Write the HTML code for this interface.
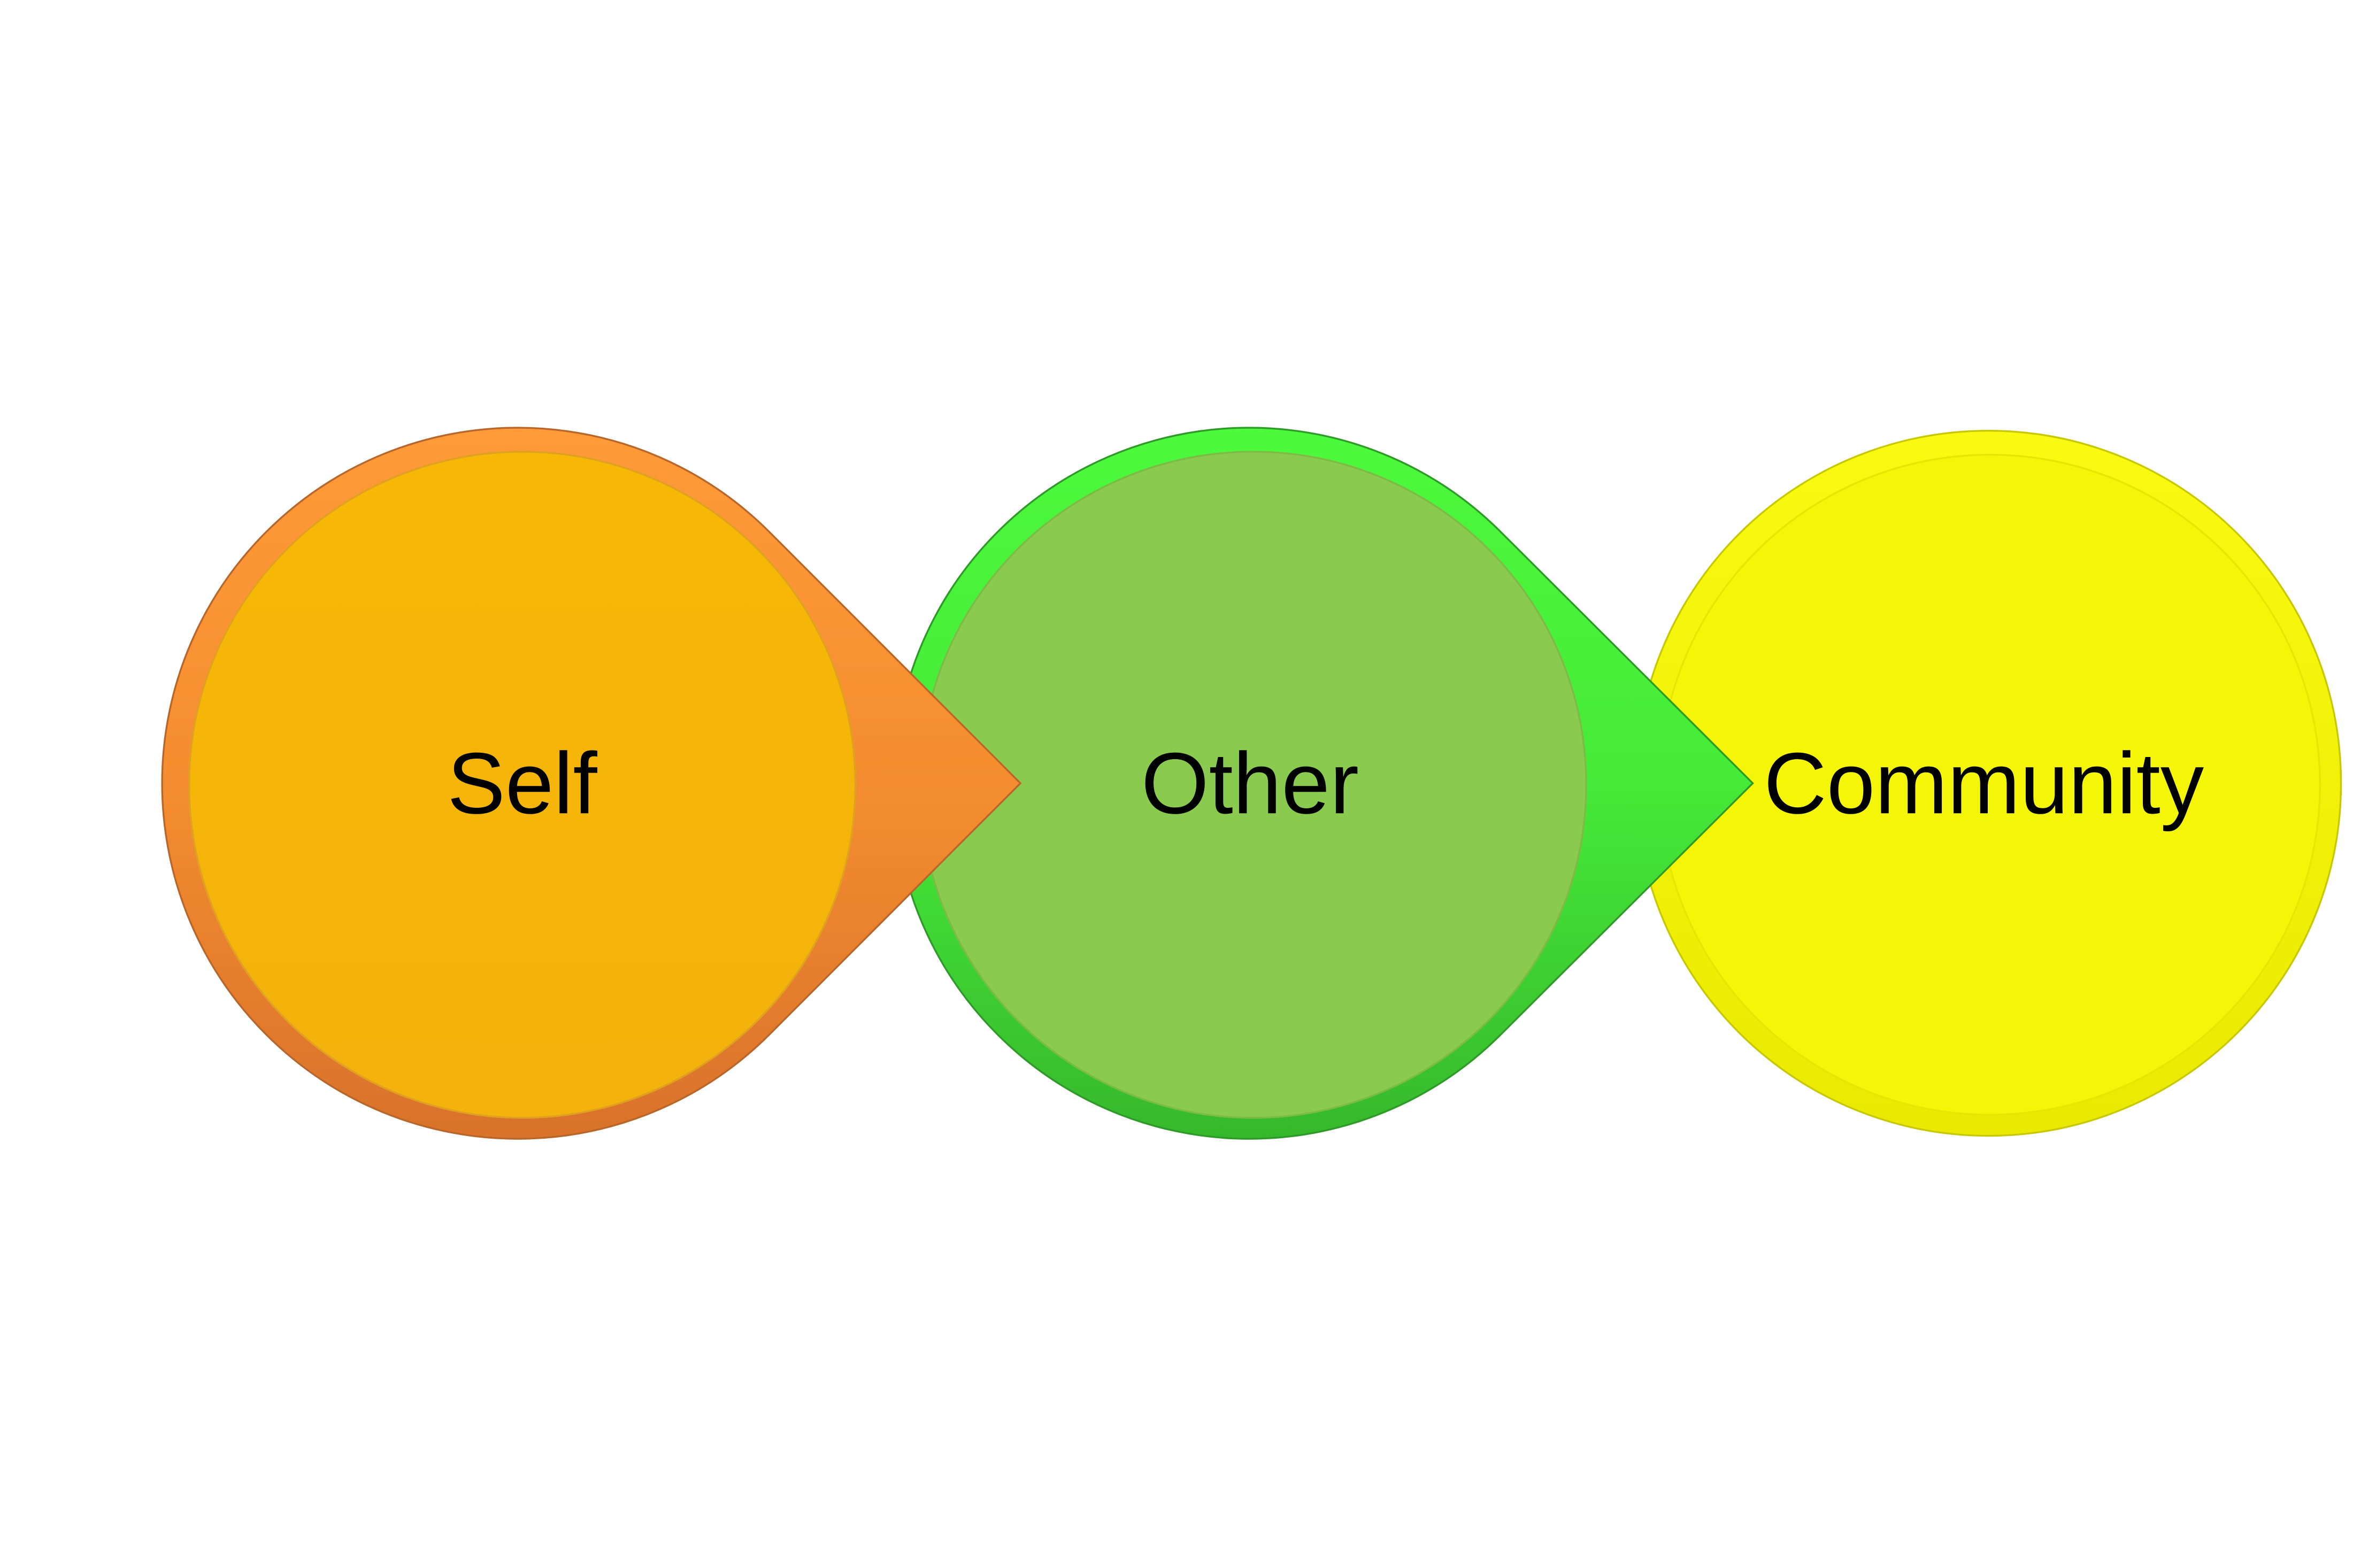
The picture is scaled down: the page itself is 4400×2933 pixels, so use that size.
<!DOCTYPE html>
<html><head><meta charset="utf-8"><style>html,body{margin:0;padding:0;background:#fff}svg{display:block}</style></head>
<body>
<svg width="4400" height="2933" viewBox="0 0 1568 1045" xmlns="http://www.w3.org/2000/svg">
<defs>
<linearGradient id="go" x1="0" y1="0" x2="0" y2="1"><stop offset="0" stop-color="#FF9A38"/><stop offset="0.5" stop-color="#F58D30"/><stop offset="1" stop-color="#D9722A"/></linearGradient>
<linearGradient id="gg" x1="0" y1="0" x2="0" y2="1"><stop offset="0" stop-color="#4CFA3C"/><stop offset="0.5" stop-color="#46EA38"/><stop offset="1" stop-color="#36B82C"/></linearGradient>
<linearGradient id="gy" x1="0" y1="0" x2="0" y2="1"><stop offset="0" stop-color="#FAFA10"/><stop offset="1" stop-color="#EAEA00"/></linearGradient>
<linearGradient id="io" x1="0" y1="0" x2="0" y2="1"><stop offset="0" stop-color="#F7B805"/><stop offset="1" stop-color="#F3B20C"/></linearGradient>
</defs>
<g stroke-width="1.2">
<circle cx="1325" cy="522" r="235" fill="url(#gy)" stroke="#C8C800"/>
<circle cx="1326" cy="523" r="220" fill="#F4F507" stroke="#E6E600"/>
<path d="M1168 522 L1000 354.4 A237 237 0 1 0 1000 689.6 Z" fill="url(#gg)" stroke="#2E9A28"/>
<circle cx="835" cy="523" r="222" fill="#8ACB4F" stroke="#7CBC45"/>
<path d="M680 522 L512.6 354.4 A237 237 0 1 0 512.6 689.6 Z" fill="url(#go)" stroke="#B8662A"/>
<circle cx="348" cy="523" r="222" fill="url(#io)" stroke="#E0A020"/>
</g>
<g font-family="'Liberation Sans', sans-serif" font-size="58" fill="#000" text-anchor="middle">
<text x="348" y="542">Self</text>
<text x="833" y="542">Other</text>
<text x="1322" y="542">Community</text>
</g>
</svg>
</body></html>
